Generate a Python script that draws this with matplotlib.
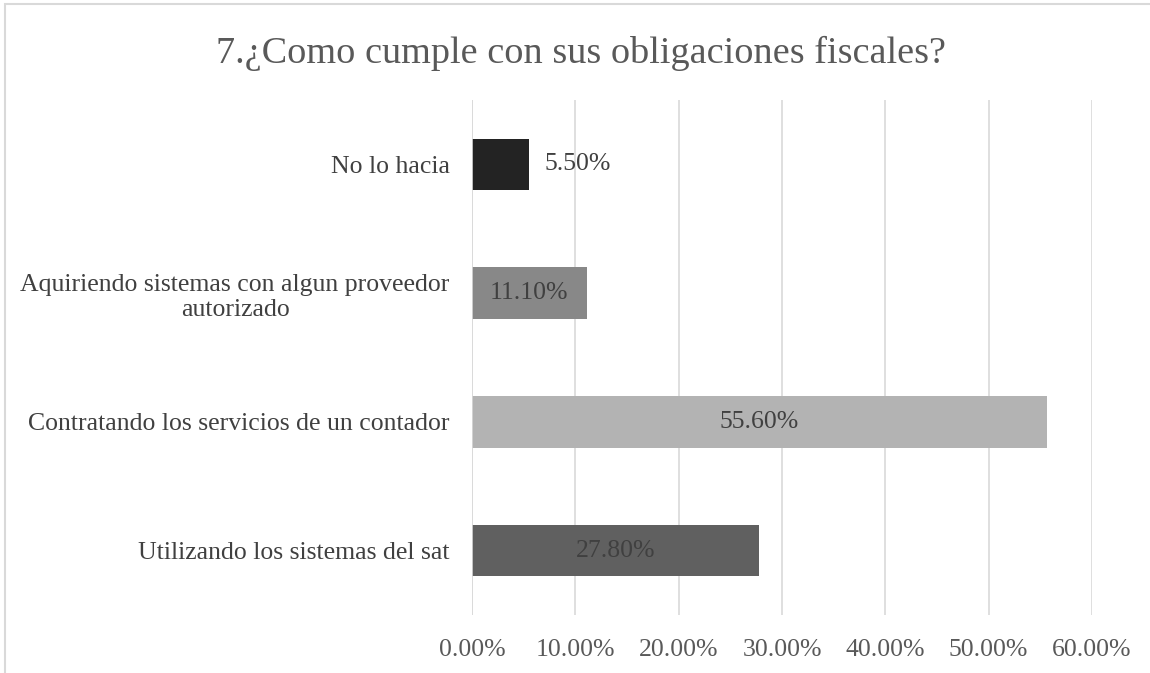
import matplotlib.pyplot as plt
from matplotlib.patches import Rectangle
from matplotlib.ticker import FuncFormatter

# datos de la grafica
categorias = ["Utilizando los sistemas del sat",
              "Contratando los servicios de un contador",
              "Aquiriendo sistemas con algun proveedor\nautorizado",
              "No lo hacia"]
valores = [0.278, 0.556, 0.111, 0.055]
etiquetas = ["27.80%", "55.60%", "11.10%", "5.50%"]
colores = ["#606060", "#b3b3b3", "#888888", "#232323"]

plt.rcParams['font.family'] = ['Liberation Serif', 'DejaVu Serif']

fig = plt.figure(figsize=(11.5, 6.73), dpi=100)
ax = fig.add_axes([472/1150, 1-615/673, 620/1150, 515/673])

y = range(len(categorias))
ax.barh(y, valores, height=0.4, color=colores, zorder=3)

# etiquetas de valores
for i, v in enumerate(valores):
    if v < 0.08:
        ax.text(v + 0.015, i, etiquetas[i], va="center", ha="left", fontsize=18.5, color="#404040", zorder=4)
    else:
        ax.text(v / 2, i, etiquetas[i], va="center", ha="center", fontsize=18.5, color="#404040", zorder=4)

ax.set_xlim(0, 0.6)
ax.set_ylim(-0.5, 3.5)
ax.set_xticks([0, 0.1, 0.2, 0.3, 0.4, 0.5, 0.6])
ax.xaxis.set_major_formatter(FuncFormatter(lambda x, p: "%.2f%%" % (x * 100)))
ax.set_yticks(list(y))
ax.set_yticklabels(categorias, fontsize=18.5, color="#404040", multialignment="center", linespacing=1.2)
ax.tick_params(axis="x", labelsize=18.5, labelcolor="#595959", length=0, pad=17)
ax.tick_params(axis="y", length=0, pad=16)
ax.grid(axis="x", color="#d9d9d9", linewidth=1.2, zorder=0)
for s in ax.spines.values():
    s.set_visible(False)
ax.axvline(0, color="#d9d9d9", linewidth=1.2, zorder=5)

fig.text(581/1150, 1-53/673, "7.¿Como cumple con sus obligaciones fiscales?", ha="center", va="center",
         fontsize=27.5, color="#595959")

# marco del grafico
fig.patches.append(Rectangle((5/1150, -0.1), 1.2, 1 - 4.5/673 + 0.1, transform=fig.transFigure,
                             fill=False, edgecolor="#d9d9d9", linewidth=1.5))

plt.savefig("out.png", dpi=100)
plt.close()
